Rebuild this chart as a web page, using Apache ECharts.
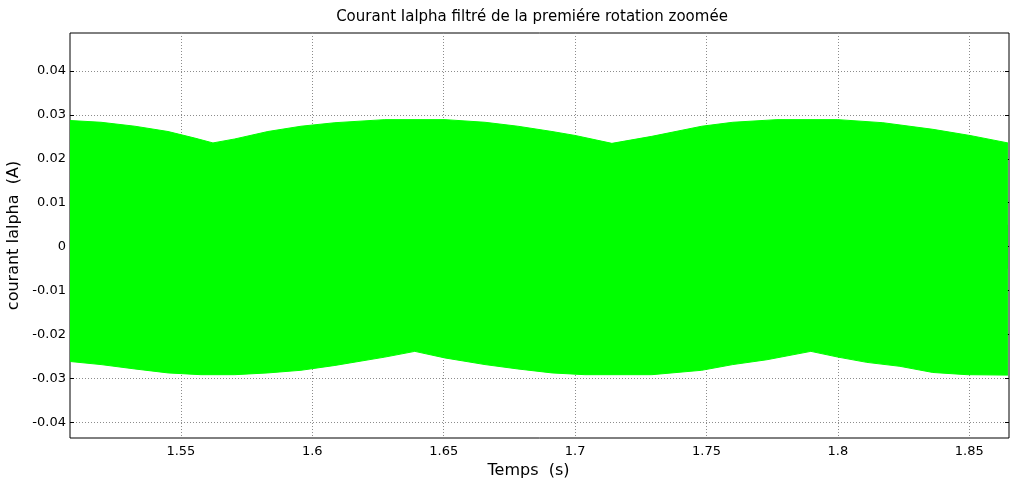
<!DOCTYPE html>
<html>
<head>
<meta charset="utf-8">
<script src="https://cdn.jsdelivr.net/npm/echarts@6/dist/echarts.min.js"></script>
<style>
  html, body { margin: 0; padding: 0; background: #fff; }
  #chart { width: 1010px; height: 486px; }
</style>
</head>
<body>
<div id="chart"></div>
<script>
// Upper envelope of the filtered alpha current (time in s, current in A)
const upperTime = [1.5078, 1.5196, 1.5325, 1.5451, 1.5553, 1.5622, 1.5705, 1.5831, 1.5957, 1.6086,
                   1.6276, 1.6505, 1.6657, 1.6782, 1.6912, 1.7000, 1.7140, 1.7292, 1.7482, 1.7600,
                   1.7768, 1.8000, 1.8171, 1.8361, 1.8502, 1.8647];
const upperCurrent = [0.0287, 0.0283, 0.0274, 0.0262, 0.0247, 0.0236, 0.0245, 0.0262, 0.0274, 0.0282,
                      0.0289, 0.0289, 0.0283, 0.0274, 0.0262, 0.0253, 0.0235, 0.0251, 0.0274, 0.0283,
                      0.0289, 0.0289, 0.0282, 0.0267, 0.0253, 0.0236];

// Lower envelope of the filtered alpha current
const lowerTime = [1.5078, 1.5196, 1.5325, 1.5451, 1.5576, 1.5705, 1.5831, 1.5957, 1.6086, 1.6276,
                   1.6390, 1.6505, 1.6657, 1.6782, 1.6912, 1.7037, 1.7292, 1.7482, 1.7600, 1.7730,
                   1.7897, 1.8000, 1.8110, 1.8236, 1.8361, 1.8491, 1.8647];
const lowerCurrent = [-0.0261, -0.0268, -0.0278, -0.0287, -0.0291, -0.0291, -0.0287, -0.0281, -0.0270, -0.0251,
                      -0.0238, -0.0253, -0.0268, -0.0278, -0.0287, -0.0291, -0.0291, -0.0281, -0.0268, -0.0257,
                      -0.0238, -0.0251, -0.0263, -0.0272, -0.0286, -0.0291, -0.0292];

// Axis ticks
const xTicks = [1.55, 1.6, 1.65, 1.7, 1.75, 1.8, 1.85];
const yTicks = [-0.04, -0.03, -0.02, -0.01, 0, 0.01, 0.02, 0.03, 0.04];
const xRange = [1.5078, 1.8651];
const yRange = [-0.0435, 0.0486];

const pairs = (xs, ys) => xs.map((x, i) => [x, ys[i]]);
const fmt = v => String(Number(v.toFixed(3)));
const FONT = 'DejaVu Sans';
const GREEN = '#00ff00';

const chart = echarts.init(document.getElementById('chart'), null, { renderer: 'canvas' });

const gridStyle = { show: true, lineStyle: { color: '#8c8c8c', type: [1, 2], width: 1 } };
const tickStyle = { show: true, inside: true, length: 4, lineStyle: { color: '#000' } };

chart.setOption({
  animation: false,
  backgroundColor: '#fff',
  title: {
    text: 'Courant Ialpha filtré de la premiére rotation zoomée',
    left: 527, top: 5, textAlign: 'center',
    textStyle: { fontFamily: FONT, fontSize: 15, fontWeight: 'normal', color: '#000' }
  },
  grid: {
    left: 70, right: 1, top: 33, bottom: 48,
    outerBoundsMode: 'none', containLabel: false,
    show: true, borderColor: '#000', borderWidth: 1, backgroundColor: 'transparent'
  },
  xAxis: [{
    type: 'value', min: xRange[0], max: xRange[1],
    name: 'Temps  (s)', nameLocation: 'middle', nameGap: 23,
    nameTextStyle: { fontFamily: FONT, fontSize: 16, color: '#000', padding: [0, 22, 0, 0] },
    axisLine: { show: false },
    axisTick: Object.assign({ customValues: xTicks }, tickStyle),
    axisLabel: { customValues: xTicks, formatter: fmt, fontFamily: FONT, fontSize: 13, color: '#000', margin: 7 },
    splitLine: gridStyle
  }, {
    type: 'value', position: 'top', min: xRange[0], max: xRange[1],
    axisLine: { show: false },
    axisTick: Object.assign({ customValues: xTicks }, tickStyle),
    axisLabel: { show: false },
    splitLine: { show: false }
  }],
  yAxis: [{
    type: 'value', min: yRange[0], max: yRange[1],
    name: 'courant Ialpha  (A)', nameLocation: 'middle', nameGap: 47, nameRotate: 90,
    nameTextStyle: { fontFamily: FONT, fontSize: 16, color: '#000' },
    axisLine: { show: false },
    axisTick: Object.assign({ customValues: yTicks }, tickStyle),
    axisLabel: { customValues: yTicks, formatter: fmt, fontFamily: FONT, fontSize: 13, color: '#000', margin: 4 },
    splitLine: gridStyle
  }, {
    type: 'value', position: 'right', min: yRange[0], max: yRange[1],
    axisLine: { show: false },
    axisTick: Object.assign({ customValues: yTicks }, tickStyle),
    axisLabel: { show: false },
    splitLine: { show: false }
  }],
  series: [{
    // positive half of the band, filled a little past zero so the halves overlap
    name: 'upper', type: 'line', data: pairs(upperTime, upperCurrent),
    symbol: 'none', clip: true,
    lineStyle: { color: GREEN, width: 1 },
    areaStyle: { color: GREEN, opacity: 1, origin: -0.005 },
    z: 1
  }, {
    name: 'lower', type: 'line', data: pairs(lowerTime, lowerCurrent),
    symbol: 'none', clip: true,
    lineStyle: { color: GREEN, width: 1 },
    areaStyle: { color: GREEN, opacity: 1, origin: 0.005 },
    z: 1
  }]
});
</script>
</body>
</html>
